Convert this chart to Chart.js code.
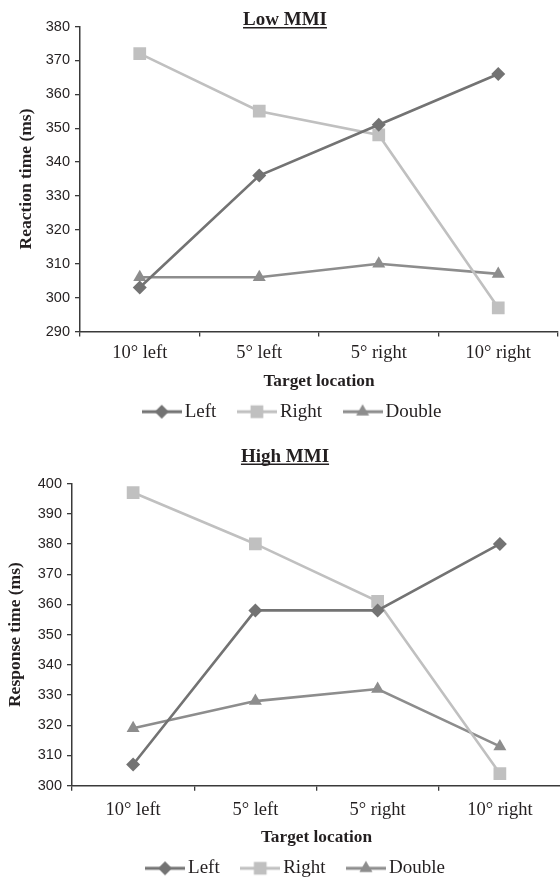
<!DOCTYPE html>
<html><head><meta charset="utf-8">
<script src="https://cdn.jsdelivr.net/npm/chart.js@4.4.1/dist/chart.umd.min.js"></script>
<style>
html,body{margin:0;padding:0;width:560px;height:879px;overflow:hidden;background:#fff;}
#c1{position:absolute;left:0;top:0;}
#c2{position:absolute;left:0;top:440px;}
</style></head><body>
<canvas id="c1" width="570" height="440"></canvas>
<canvas id="c2" width="570" height="460"></canvas>
<script>
// ---- data ----
const categories = ['10° left', '5° left', '5° right', '10° right'];
const seriesNames = ['Left', 'Right', 'Double'];
const lowLeft   = [303, 336, 351, 366];
const lowRight  = [372, 355, 348, 297];
const lowDouble = [306, 306, 310, 307];
const highLeft   = [307, 358, 358, 380];
const highRight  = [397, 380, 361, 304];
const highDouble = [319, 328, 332, 313];
const lowTickRange  = [290, 380];
const highTickRange = [300, 400];
const tickStep = 10;

// ---- styles ----
const SERIF = '"Liberation Serif", "Times New Roman", serif';
const SANS = '"Liberation Sans", Arial, sans-serif';
const TEXT = '#231f20';
const AXIS = '#3a3a3a';
const seriesStyle = [
  {color: '#737373', point: 'rectRot', r: 7},
  {color: '#c0c0c0', point: 'rect', r: 9},
  {color: '#8d8d8d', point: 'triangle', r: 7.5}
];

function legendImage(st) {
  const c = document.createElement('canvas');
  c.width = 40; c.height = 20;
  const g = c.getContext('2d');
  g.strokeStyle = st.color; g.lineWidth = 3;
  g.beginPath(); g.moveTo(0, 10); g.lineTo(40, 10); g.stroke();
  g.fillStyle = st.color;
  g.beginPath();
  const x = 20, y = 10, r = st.r;
  if (st.point === 'rectRot') {
    g.moveTo(x, y - r); g.lineTo(x + r, y); g.lineTo(x, y + r); g.lineTo(x - r, y);
  } else if (st.point === 'rect') {
    const s = r * Math.SQRT1_2; g.rect(x - s, y - s, 2 * s, 2 * s);
  } else {
    g.moveTo(x, y - r); g.lineTo(x + r * Math.sin(Math.PI * 2 / 3), y + r * 0.5);
    g.lineTo(x - r * Math.sin(Math.PI * 2 / 3), y + r * 0.5);
  }
  g.closePath(); g.fill();
  return c;
}

const titlePlugin = {
  id: 'utitle',
  afterDraw(chart, args, o) {
    const ctx = chart.ctx;
    ctx.save();
    ctx.font = 'bold 19px ' + SERIF;
    ctx.fillStyle = TEXT;
    ctx.textAlign = 'center';
    ctx.textBaseline = 'alphabetic';
    ctx.fillText(o.text, o.x, o.y);
    const w = ctx.measureText(o.text).width;
    ctx.fillRect(o.x - w / 2, o.y + 2, w, 1.5);
    ctx.restore();
  }
};

function makeChart(id, values, range, p) {
  const datasets = values.map((vals, i) => ({
    label: seriesNames[i],
    data: vals,
    borderColor: seriesStyle[i].color,
    backgroundColor: seriesStyle[i].color,
    borderWidth: 2.6,
    pointStyle: seriesStyle[i].point,
    pointRadius: seriesStyle[i].r,
    pointBorderWidth: 0,
    pointBackgroundColor: seriesStyle[i].color,
    tension: 0,
    fill: false
  }));
  return new Chart(document.getElementById(id), {
    type: 'line',
    data: {labels: categories, datasets},
    plugins: [titlePlugin],
    options: {
      responsive: false,
      animation: false,
      events: [],
      layout: {padding: {left: p.L, right: p.R, top: p.top, bottom: p.bottom}},
      plugins: {
        tooltip: {enabled: false},
        title: {display: false},
        utitle: {text: p.title, x: 285, y: p.titleY},
        legend: {
          position: 'bottom',
          labels: {
            usePointStyle: true,
            pointStyleWidth: 27,
            padding: 27,
            color: TEXT,
            font: {family: SERIF, size: 19},
            generateLabels: (chart) => chart.data.datasets.map((ds, i) => ({
              text: ds.label,
              pointStyle: legendImage(seriesStyle[i]),
              fillStyle: seriesStyle[i].color,
              strokeStyle: seriesStyle[i].color,
              lineWidth: 0,
              fontColor: TEXT,
              hidden: false,
              datasetIndex: i
            }))
          }
        }
      },
      scales: {
        x: {
          type: 'category',
          offset: true,
          afterFit: (s) => { s.height = p.xH; },
          grid: {display: true, drawOnChartArea: false, drawTicks: true, tickLength: 5, offset: true, color: AXIS, lineWidth: 1.3},
          border: {display: true, color: AXIS, width: 1.5},
          ticks: {color: TEXT, font: {family: SERIF, size: 18.5}, padding: p.xTickPad, maxRotation: 0},
          title: {display: true, text: 'Target location', color: TEXT, font: {family: SERIF, size: 17.3, weight: 'bold'}, padding: {top: 0, bottom: p.xTitlePad}}
        },
        y: {
          min: range[0], max: range[1],
          afterFit: (s) => { s.width = p.yW; },
          grid: {display: true, drawOnChartArea: false, drawTicks: true, tickLength: 5, color: AXIS, lineWidth: 1.3},
          border: {display: true, color: AXIS, width: 1.5},
          ticks: {stepSize: tickStep, color: TEXT, font: {family: SANS, size: 14.5}, padding: 5},
          title: {display: true, text: p.yTitle, color: TEXT, font: {family: SERIF, size: 17.5, weight: 'bold'}, padding: {top: p.yTitlePad, bottom: 0}}
        }
      }
    }
  });
}

makeChart('c1', [lowLeft, lowRight, lowDouble], lowTickRange, {
  L: 31.8, R: 12, top: 26.5, bottom: 8.8, yW: 48.2, xH: 43.7,
  yTitlePad: -16, xTitlePad: -17.2, xTickPad: 5.4,
  title: 'Low MMI', titleY: 25, yTitle: 'Reaction time (ms)'
});
makeChart('c2', [highLeft, highRight, highDouble], highTickRange, {
  L: 30.4, R: 4, top: 43.5, bottom: 12.2, yW: 41.6, xH: 46.1,
  yTitlePad: -25.9, xTitlePad: -16.6, xTickPad: 8.2,
  title: 'High MMI', titleY: 21.5, yTitle: 'Response time (ms)'
});
</script>
</body></html>
